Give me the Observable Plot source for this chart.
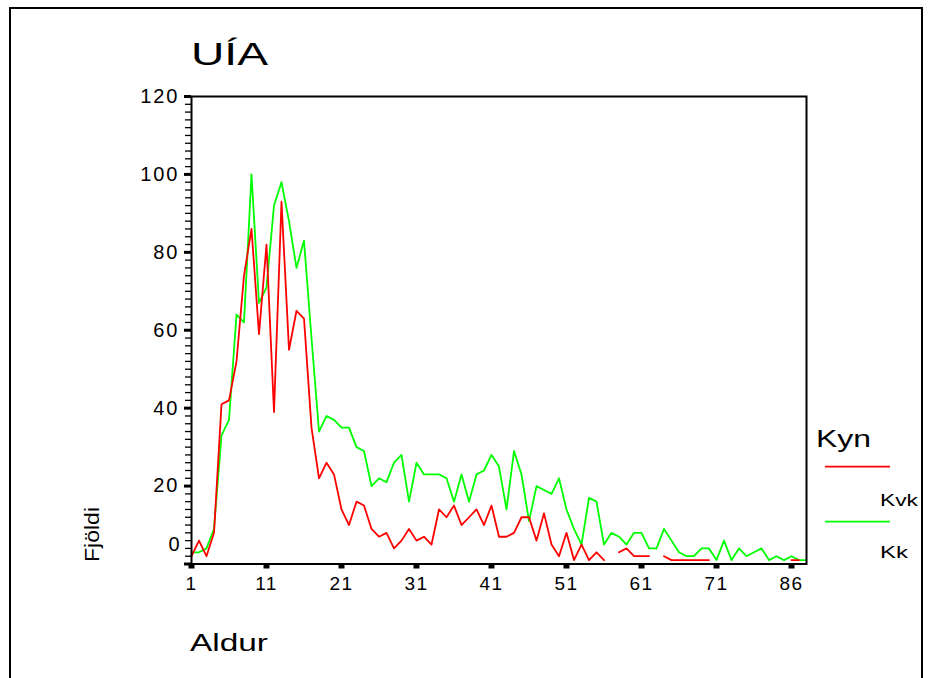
<!DOCTYPE html>
<html><head><meta charset="utf-8">
<script src="https://cdn.jsdelivr.net/npm/d3@7"></script>
<script src="https://cdn.jsdelivr.net/npm/@observablehq/plot@0.6"></script>
<style>
body{margin:0;background:#fff}
#chart svg{display:block;background:#fff}
g[aria-label="y-axis tick label"] text{letter-spacing:2px}
g[aria-label="x-axis tick label"] text{letter-spacing:1.5px}
</style></head><body><div id="chart"></div>
<script>
// Category labels (ages) for the x axis
const ages = [1,2,3,4,5,6,7,8,9,10,11,12,13,14,15,16,17,18,19,20,21,22,23,24,25,26,27,28,29,30,
  31,32,33,34,35,36,37,38,39,40,41,42,43,44,45,46,47,48,49,50,51,52,53,54,55,56,57,58,59,60,
  61,62,63,64,65,66,67,68,69,70,71,72,73,74,75,76,78,79,81,83,86,88,90];
// Kvk (female) counts, null = no value
const kvk = [2,6,2,8,41,42,52,74,86,59,
  82,39,93,55,65,63,35,22,26,23,
  14,10,16,15,9,7,8,4,6,9,
  6,7,5,14,12,15,10,12,14,10,
  15,7,7,8,12,12,6,13,5,2,
  8,1,5,1,3,1,null,3,4,2,
  2,2,null,2,1,1,1,1,1,1,
  null,null,null,null,null,null,null,null,null,null,
  1,1,null];
// Kk (male) counts
const kk = [3,3,4,9,33,37,64,62,100,67,
  71,92,98,88,76,83,58,34,38,37,
  35,35,30,29,20,22,21,26,28,16,
  26,23,23,23,22,16,23,16,23,24,
  28,25,14,29,23,11,20,19,18,22,
  14,9,5,17,16,5,8,7,5,8,
  8,4,4,9,6,3,2,2,4,4,
  1,6,1,4,2,3,4,1,2,1,
  2,1,1];
const yMajor = [20,40,60,80,100,120];
const yMinor = d3.range(0,121,2).filter(v => v % 20 !== 0);
const xTickIdx = [0,10,20,30,40,50,60,70,80];
const seriesNames = ["Kvk","Kk"];
const seriesColors = ["#ff0000","#00ff00"];

const data = ages.map((a,i) => ({i, age:a, kvk:kvk[i], kk:kk[i]}));
const font = "'Liberation Sans', Arial, sans-serif";

const chart = Plot.plot({
  width: 931, height: 678,
  marginLeft: 191, marginRight: 125, marginTop: 96, marginBottom: 114.5,
  style: {fontFamily: font, color: "#000", background: "#fff"},
  x: {domain: [0, ages.length - 1], axis: null},
  y: {domain: [0, 120], axis: null},
  marks: [
    Plot.line(data, {x: "i", y: "kk", stroke: seriesColors[1], strokeWidth: 1.8}),
    Plot.line(data, {x: "i", y: "kvk", stroke: seriesColors[0], strokeWidth: 1.8}),
    Plot.frame({stroke: "#000", strokeWidth: 2}),
    Plot.axisY({ticks: yMinor, tickSize: 6, strokeWidth: 1.3, tickFormat: () => "", label: null}),
    Plot.axisY({ticks: yMajor, tickSize: 7, strokeWidth: 3, tickPadding: 5, fontSize: 20, label: null}),
    Plot.axisY({ticks: [0], tickSize: 7, strokeWidth: 3, tickFormat: () => "", label: null}),
    Plot.text([0], {y: d => d, frameAnchor: "left", textAnchor: "end", dx: -12, dy: -19, text: d => String(d), fontSize: 20, fontFamily: font}),
    Plot.axisX({ticks: xTickIdx, tickFormat: i => ages[i], tickSize: 5, strokeWidth: 6, tickPadding: 7, fontSize: 19, label: null})
  ]
});
document.getElementById("chart").append(chart);

const svg = d3.select(chart);
// outer border
svg.append("rect").attr("x",10).attr("y",8).attr("width",912).attr("height",700)
  .attr("fill","none").attr("stroke","#000").attr("stroke-width",2);

function addText(txt, x, y, size, len, rotate) {
  const t = svg.append("text").text(txt)
    .attr("font-family", font).attr("font-size", size).attr("fill", "#000")
    .attr("text-anchor", "start")
    .attr("textLength", len).attr("lengthAdjust", "spacingAndGlyphs");
  if (rotate) t.attr("transform", `translate(${x},${y}) rotate(-90)`);
  else t.attr("x", x).attr("y", y);
  return t;
}
addText("UÍA", 191, 65, 32, 77);
addText("Aldur", 190, 651, 23, 78);
addText("Fjöldi", 99, 562, 20, 55, true);
// legend
addText("Kyn", 816, 447, 23, 55);
const lg = [{y: 466.7, ty: 506, len: 38}, {y: 521.7, ty: 558, len: 28}];
seriesNames.forEach((n, k) => {
  svg.append("line").attr("x1", 825).attr("x2", 890).attr("y1", lg[k].y).attr("y2", lg[k].y)
    .attr("stroke", seriesColors[k]).attr("stroke-width", 1.8);
  addText(n, 880, lg[k].ty, 17, lg[k].len);
});
</script></body></html>
